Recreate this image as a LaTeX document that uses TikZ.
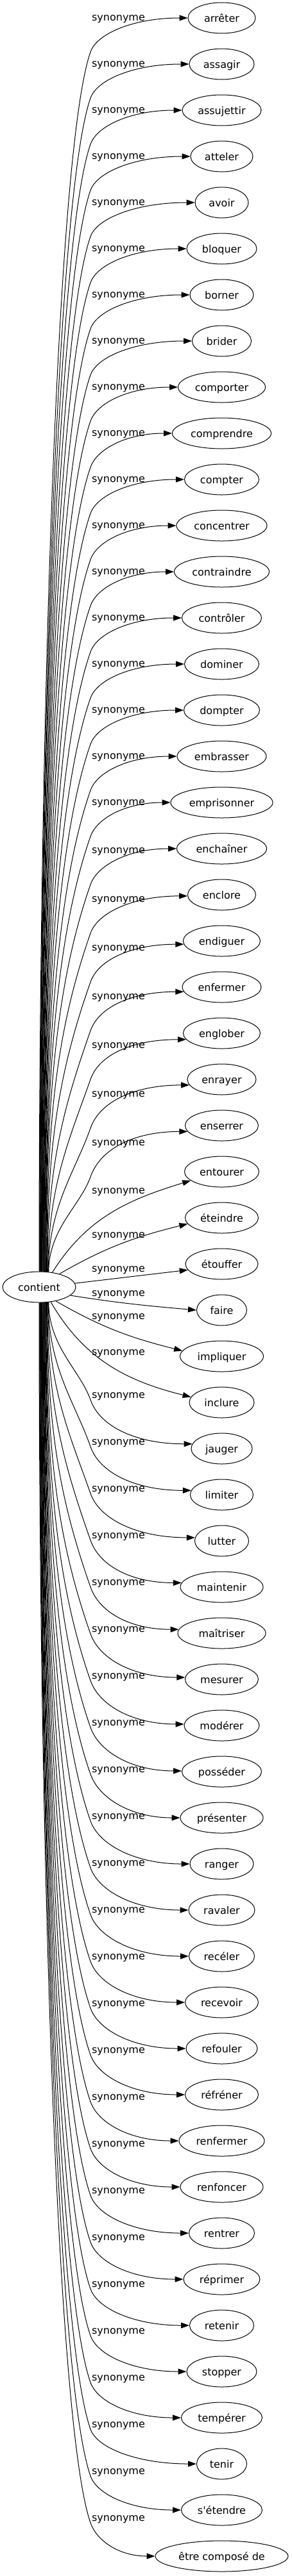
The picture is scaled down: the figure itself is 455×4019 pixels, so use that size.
\documentclass[tikz,border=0pt]{standalone}
\usepackage{fontspec}
\setmainfont{DejaVu Sans}[Ligatures=TeXOff]
\usetikzlibrary{arrows.meta,calc,shapes.geometric}
\begin{document}
\begin{tikzpicture}[x=1pt,y=-1pt,
  every node/.style={font=\fontsize{16}{19}\selectfont},
  word/.style={draw, ellipse, line width=1pt, minimum height=48pt, inner xsep=0pt, inner ysep=0pt, text height=13pt, text depth=1pt},
  rel/.style={anchor=base, inner sep=0pt, text=black},
  link/.style={line width=1pt, -{Triangle[length=13pt,width=9pt]}}]
\useasboundingbox (0,0) rectangle (455,4019);
\node[word, minimum width=114pt] (c) at (61,2008) {contient};
\foreach \txt/\w [count=\n from 0] in {arrêter/105, assagir/101, assujettir/123, atteler/97, avoir/83, bloquer/109, borner/99, brider/92, comporter/136, comprendre/154, compter/116, concentrer/141, contraindre/148, contrôler/124, dominer/116, dompter/118, embrasser/139, emprisonner/159, enchaîner/140, enclore/106, endiguer/120, enfermer/123, englober/120, enrayer/107, enserrer/114, entourer/116, éteindre/114, étouffer/113, faire/78, impliquer/130, inclure/101, jauger/95, limiter/98, lutter/84, maintenir/129, maîtriser/137, mesurer/114, modérer/117, posséder/124, présenter/129, ranger/99, ravaler/103, recéler/102, recevoir/114, refouler/111, réfréner/114, renfermer/133, renfoncer/129, rentrer/102, réprimer/119, retenir/100, stopper/109, tempérer/126, tenir/78, s'étendre/126, être composé de/207}{
  \node[word, minimum width=\w pt] (t\n) at (345.5,{28+72*\n}) {\txt};
}
% edges far from the centre
\foreach \n in {0,...,55}{
  \pgfmathtruncatemacro{\up}{\n<28 ? 1 : 0}
  \pgfmathtruncatemacro{\k}{\n<28 ? 28-\n : \n-27}
  \pgfmathsetmacro{\y}{28+72*\n}
  \ifnum\k>3
    \ifnum\up=1
      \pgfmathtruncatemacro{\ts}{58+32*(\k-4)/24}
      \pgfmathsetmacro{\ly}{\y+max(-1,26-4*(\k-4))}
      \pgfmathsetmacro{\by}{\ly+54}
      \pgfmathsetmacro{\L}{1985-\by}
      \pgfmathsetmacro{\sa}{-0.45*\L}
      \pgfmathsetmacro{\h}{min(0.3*\L,150)}
      \pgfmathsetmacro{\cx}{141-0.35*\h}
      \pgfmathsetmacro{\cy}{\by+\h}
      \pgfmathsetmacro{\m}{0.55*(\by-\y)}
      \pgfmathsetmacro{\dx}{141+0.35*\m}
      \pgfmathsetmacro{\dy}{\by-\m}
      \pgfmathtruncatemacro{\te}{180+max(0,min(10,10-2.5*(\k-6)))}
    \else
      \pgfmathtruncatemacro{\ts}{-(58+32*(\k-4)/24)}
      \pgfmathsetmacro{\ly}{\y-84+(\k-4)}
      \pgfmathsetmacro{\by}{\ly+8}
      \pgfmathsetmacro{\L}{\by-2031}
      \pgfmathsetmacro{\sa}{0.45*\L}
      \pgfmathsetmacro{\h}{min(0.3*\L,150)}
      \pgfmathsetmacro{\cx}{141-0.35*\h}
      \pgfmathsetmacro{\cy}{\by-\h}
      \pgfmathsetmacro{\m}{0.55*(\y-\by)}
      \pgfmathsetmacro{\dx}{141+0.35*\m}
      \pgfmathsetmacro{\dy}{\by+\m}
      \pgfmathtruncatemacro{\te}{180-max(0,min(10,10-1.2*(\k-3)))}
    \fi
    \coordinate (s\n) at (c.\ts);
    \coordinate (b\n) at (141,\by);
    \coordinate (e\n) at (t\n.\te);
    \coordinate (q\n) at ($(b\n)!0.45!(e\n)$);
    \draw[link] (s\n) .. controls ($(s\n)+(0,\sa)$) and (\cx,\cy) .. (b\n) .. controls (\dx,\dy) and (q\n |- e\n) .. (e\n);
    \node[rel] (l\n) at (184.5,{\ly+5}) {synonyme};
  \fi
}
% edges near the centre
\draw[link] (c.48) to[out=58,in=197] (t25.196);
\node[rel] (l25) at (184.5,1862) {synonyme};
\draw[link] (c.33) to[out=30,in=194] (t26.190);
\node[rel] (l26) at (184.5,1931) {synonyme};
\draw[link] (c.6) -- (t27.190);
\node[rel] (l27) at (184.5,1984) {synonyme};
\draw[link] (c.-15) to[out=-9,in=175] (t28.180);
\node[rel] (l28) at (184.5,2022) {synonyme};
\draw[link] (c.-40) to[out=-30,in=166] (t29.172);
\node[rel] (l29) at (184.5,2058) {synonyme};
\draw[link] (c.-52) to[out=-60,in=166] (t30.170);
\node[rel] (l30) at (184.5,2114) {synonyme};
\end{tikzpicture}
\end{document}
